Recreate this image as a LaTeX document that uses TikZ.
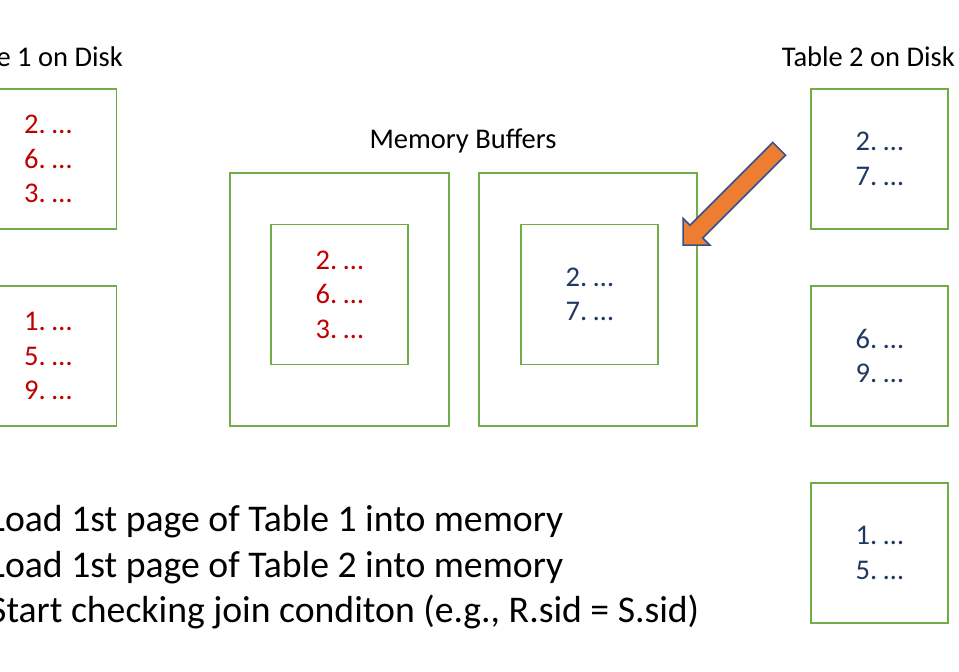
\documentclass[tikz,border=0pt]{standalone}
\usepackage{fontspec}
\setmainfont{Carlito}
\usetikzlibrary{positioning}
\definecolor{boxgreen}{HTML}{70AD47}
\definecolor{tabred}{HTML}{C00000}
\definecolor{tabblue}{HTML}{1F3864}
\definecolor{arroworange}{HTML}{ED7D31}
\definecolor{arrowedge}{HTML}{2F528F}

\begin{document}
\begin{tikzpicture}[x=1pt, y=-1pt,
    page/.style={draw=boxgreen, line width=1.5pt, minimum width=137pt, minimum height=140pt,
                 inner sep=0pt, align=left, font=\fontsize{28.5}{34.5}\selectfont},
    buffer/.style={draw=boxgreen, line width=1.5pt, minimum width=218pt, minimum height=253pt,
                   inner sep=0pt},
    title/.style={inner sep=0pt, font=\fontsize{28.5}{33}\selectfont},
    bullet/.style={anchor=base west, inner sep=0pt, font=\fontsize{37.7}{45}\selectfont}
  ]
    \useasboundingbox (0,0) rectangle (959,672);
    \clip (0,0) rectangle (959,672);
    \fill[white] (0,0) rectangle (959,672);

    % disk pages of table 1
    \node[title, anchor=base east] (t1label) at (123,66) {Table 1 on Disk};
    \node[page, text=tabred] (r1) at (48,159) {2.~…\\6.~…\\3.~…};
    \node[page, text=tabred] (r2) at (48,356) {1.~…\\5.~…\\9.~…};

    % disk pages of table 2
    \node[title, anchor=base east] (t2label) at (955,66) {Table 2 on Disk};
    \node[page, text=tabblue] (s1) at (879.5,159) {2.~…\\7.~…};
    \node[page, text=tabblue] (s2) at (879.5,356) {6.~…\\9.~…};
    \node[page, text=tabblue] (s3) at (879.5,553) {1.~…\\5.~…};

    % memory buffers
    \node[title, anchor=base] (memlabel) at (463,148) {Memory Buffers};
    \node[buffer, minimum width=219pt] (buf1) at (339.5,299.5) {};
    \node[buffer] (buf2) at (588,299.5) {};
    \node[page, text=tabred] (bufr) at (339.5,294.5) {2.~…\\6.~…\\3.~…};
    \node[page, text=tabblue] (bufs) at (589.5,294.5) {2.~…\\7.~…};

    % block arrow into the second buffer
    \draw[arrowedge, fill=arroworange, line width=1.5pt, line join=miter]
      (683,245) -- (709.8,245) -- (702.8,238) -- (785.6,155.2)
      -- (772.8,142.4) -- (690,225.2) -- (683,218.2) -- cycle;

    % steps
    \node[bullet] (load1) at (-11,531) {Load 1st page of Table 1 into memory};
    \node[bullet] (load2) at (-11,577) {Load 1st page of Table 2 into memory};
    \node[bullet] (check) at (-11,622.5) {Start checking join conditon (e.g., R.sid = S.sid)};
  \end{tikzpicture}
\end{document}
